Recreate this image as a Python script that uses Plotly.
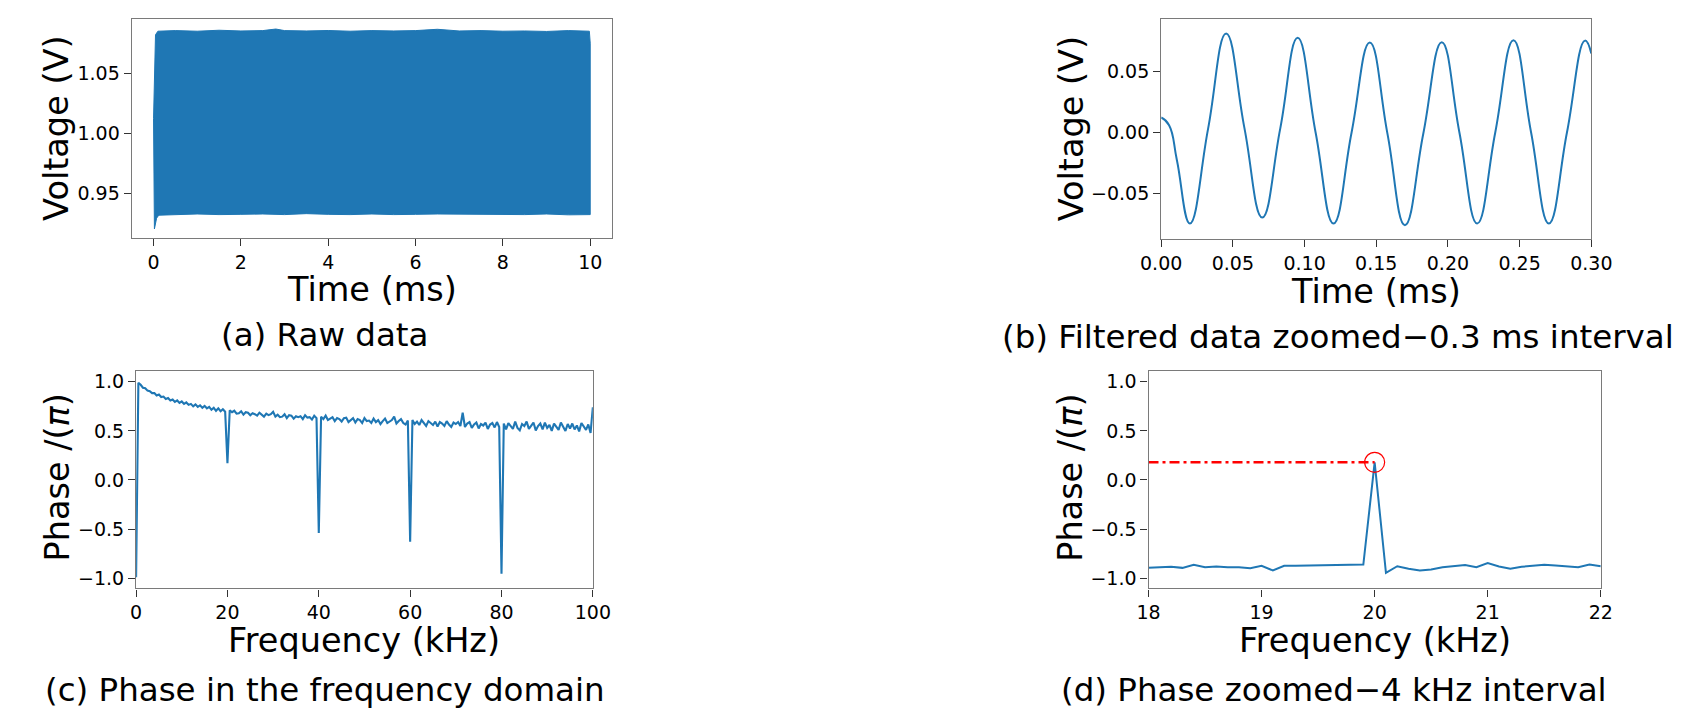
import numpy as np
import plotly.graph_objects as go

W, H = 1704, 724
BLUE = "#1f77b4"

# ---------------- data ----------------
# (a) raw data: envelope of the dense 20 kHz oscillation (time in ms, voltage in V)
raw_upper_t = [0.0, 0.045, 0.1, 0.5, 1.0, 1.5, 2.0, 2.5, 2.8, 3.0, 3.5, 4.0, 4.5, 5.0,
               5.5, 6.0, 6.5, 7.0, 7.5, 8.0, 8.5, 9.0, 9.5, 9.98, 10.0]
raw_upper_v = [1.012, 1.082, 1.085, 1.0855, 1.085, 1.0858, 1.0852, 1.0855, 1.0868, 1.0855,
               1.0852, 1.0856, 1.085, 1.0855, 1.0852, 1.0855, 1.0866, 1.0852, 1.0855, 1.085,
               1.0852, 1.0848, 1.0855, 1.085, 1.075]
raw_lower_t = [0.0, 0.02, 0.07, 0.12, 0.5, 1.0, 1.5, 2.0, 2.5, 3.0, 3.5, 4.0, 4.5, 5.0,
               5.5, 6.0, 6.5, 7.0, 7.5, 8.0, 8.5, 9.0, 9.5, 10.0]
raw_lower_v = [1.012, 0.920, 0.929, 0.9315, 0.932, 0.9325, 0.932, 0.9322, 0.9325, 0.932,
               0.9328, 0.9322, 0.932, 0.9325, 0.932, 0.9322, 0.9325, 0.932, 0.9318, 0.9322,
               0.932, 0.9325, 0.9318, 0.932]

# (b) filtered data, 0.3 ms window (peaks, troughs and crossings)
filt_t = [0.0, 0.0055, 0.011, 0.020, 0.0327, 0.0453, 0.058, 0.0705, 0.083, 0.0952,
          0.1077, 0.1202, 0.1328, 0.1455, 0.1578, 0.170, 0.1828, 0.1957, 0.208, 0.2204,
          0.233, 0.2457, 0.258, 0.2704, 0.283, 0.2956, 0.300]
filt_v = [0.0123, 0.006, -0.023, -0.0748, 0.003, 0.0814, 0.004, -0.0699, 0.003, 0.0778,
          0.0, -0.0748, 0.0, 0.0740, -0.001, -0.0762, -0.001, 0.0742, 0.0, -0.0748,
          0.0, 0.0759, 0.0, -0.0748, 0.0, 0.0755, 0.065]

# (c) phase over 0-100 kHz, sampled every 0.5 kHz (units of pi)
freq_c = [round(0.5 * i, 1) for i in range(201)]
phase_c = [
    -0.99, 0.99,
    0.97, 0.94, 0.935, 0.91, 0.905, 0.885, 0.885, 0.86, 0.87, 0.845,
    0.85, 0.825, 0.835, 0.81, 0.82, 0.795, 0.81, 0.785, 0.80, 0.775,
    0.79, 0.765, 0.775, 0.75, 0.77, 0.745, 0.76, 0.735, 0.755, 0.73,
    0.745, 0.715, 0.735, 0.705, 0.73, 0.70, 0.72, 0.695, 0.17, 0.71,
    0.69, 0.705, 0.675, 0.68, 0.70, 0.665, 0.69, 0.685, 0.66, 0.68,
    0.67, 0.655, 0.685, 0.66, 0.645, 0.675, 0.66, 0.67, 0.695, 0.645,
    0.665, 0.64, 0.645, 0.67, 0.63, 0.66, 0.655, 0.625, 0.65, 0.64,
    0.65, 0.62, 0.66, 0.635, 0.64, 0.615, 0.655, 0.63, -0.54, 0.645,
    0.62, 0.655, 0.61, 0.625, 0.64, 0.60, 0.63, 0.62, 0.595, 0.63,
    0.635, 0.59, 0.61, 0.63, 0.585, 0.62, 0.61, 0.58, 0.63, 0.60,
    0.605, 0.58, 0.625, 0.59, 0.61, 0.57, 0.60, 0.625, 0.58, 0.595,
    0.61, 0.645, 0.575, 0.60, 0.62, 0.58, 0.565, 0.605, -0.63, 0.61,
    0.57, 0.595, 0.56, 0.61, 0.585, 0.55, 0.60, 0.575, 0.56, 0.595,
    0.545, 0.59, 0.575, 0.55, 0.60, 0.565, 0.54, 0.585, 0.57, 0.59,
    0.55, 0.685, 0.54, 0.575, 0.59, 0.53, 0.565, 0.585, 0.525, 0.57,
    0.555, 0.585, 0.52, 0.565, 0.58, 0.535, 0.59, 0.54, -0.955, 0.575,
    0.515, 0.58, 0.55, 0.52, 0.595, 0.53, 0.505, 0.57, 0.55, 0.595,
    0.52, 0.56, 0.585, 0.505, 0.55, 0.575, 0.515, 0.585, 0.53, 0.56,
    0.50, 0.575, 0.54, 0.51, 0.585, 0.545, 0.50, 0.57, 0.525, 0.575,
    0.515, 0.555, 0.495, 0.58, 0.54, 0.51, 0.565, 0.48, 0.74,
]

# (d) phase zoomed 18-22 kHz, 0.1 kHz resolution
freq_d = [round(18.0 + 0.1 * i, 1) for i in range(41)]
phase_d = [-0.895, -0.890, -0.884, -0.895, -0.864, -0.888, -0.881, -0.888, -0.888, -0.898,
           -0.874, -0.921, -0.874, -0.873, -0.871, -0.866, -0.862, -0.862, -0.864, -0.861,
           0.180, -0.945, -0.878, -0.905, -0.921, -0.911, -0.888, -0.874, -0.867, -0.888,
           -0.847, -0.881, -0.905, -0.884, -0.871, -0.864, -0.871, -0.881, -0.888, -0.861,
           -0.878]
peak_freq = 20.0
peak_phase = 0.18

# ---------------- figure ----------------
fig = go.Figure()

# (a)
fig.add_trace(go.Scatter(
    x=raw_upper_t + raw_lower_t[::-1], y=raw_upper_v + raw_lower_v[::-1],
    mode="lines", fill="toself", fillcolor=BLUE, line=dict(color=BLUE, width=1),
    xaxis="x", yaxis="y", showlegend=False, hoverinfo="skip"))

# (b)
fig.add_trace(go.Scatter(
    x=filt_t, y=filt_v, mode="lines",
    line=dict(color=BLUE, width=2, shape="spline", smoothing=1.3),
    xaxis="x2", yaxis="y2", showlegend=False))

# (c)
fig.add_trace(go.Scatter(
    x=freq_c, y=phase_c, mode="lines", line=dict(color=BLUE, width=2.1),
    xaxis="x3", yaxis="y3", showlegend=False))

# (d)
fig.add_trace(go.Scatter(
    x=freq_d, y=phase_d, mode="lines", line=dict(color=BLUE, width=2),
    xaxis="x4", yaxis="y4", showlegend=False))
fig.add_trace(go.Scatter(
    x=[freq_d[0], peak_freq], y=[peak_phase, peak_phase], mode="lines",
    line=dict(color="#ff0000", width=2.6, dash="10px,4px,3px,4px"),
    xaxis="x4", yaxis="y4", showlegend=False))
fig.add_trace(go.Scatter(
    x=[peak_freq], y=[peak_phase], mode="markers",
    marker=dict(symbol="circle-open", size=20, color="#ff0000", line=dict(width=1.2, color="#ff0000")),
    xaxis="x4", yaxis="y4", showlegend=False))


def dom_x(a, b):
    return [a / W, b / W]


def dom_y(top, bottom):
    return [1 - bottom / H, 1 - top / H]


TICKFONT = dict(family="DejaVu Sans", size=19, color="#000000")


def axis(domain, rng, tickvals, fmt, anchor):
    return dict(domain=domain, range=rng, tickvals=tickvals, tickformat=fmt, anchor=anchor,
                showline=True, mirror=True, linecolor="#7a7a7a", linewidth=1.3,
                ticks="outside", ticklen=7, tickwidth=1.3, tickcolor="#333333",
                showgrid=False, zeroline=False, tickfont=TICKFONT)


fig.update_layout(
    width=W, height=H, margin=dict(l=0, r=0, t=0, b=0),
    paper_bgcolor="white", plot_bgcolor="white",
    xaxis=axis(dom_x(113.5, 606), [-0.5, 10.5], [0, 2, 4, 6, 8, 10], "d", "y"),
    yaxis=axis(dom_y(18, 237.3), [0.9125, 1.0952], [0.95, 1.00, 1.05], ".2f", "x"),
    xaxis2=axis(dom_x(1169, 1610), [0, 0.3], [0, 0.05, 0.10, 0.15, 0.20, 0.25, 0.30], ".2f", "y2"),
    yaxis2=axis(dom_y(18, 238), [-0.0873, 0.0933], [-0.05, 0.0, 0.05], ".2f", "x2"),
    xaxis3=axis(dom_x(118, 586.3), [0, 100], [0, 20, 40, 60, 80, 100], "d", "y3"),
    yaxis3=axis(dom_y(371, 588.3), [-1.105, 1.105], [-1.0, -0.5, 0.0, 0.5, 1.0], ".1f", "x3"),
    xaxis4=axis(dom_x(1156, 1619.7), [18, 22], [18, 19, 20, 21, 22], "d", "y4"),
    yaxis4=axis(dom_y(371, 588.3), [-1.105, 1.105], [-1.0, -0.5, 0.0, 0.5, 1.0], ".1f", "x4"),
)

LABELFONT = dict(family="DejaVu Sans", size=33.5, color="#000000")
CAPFONT = dict(family="DejaVu Sans", size=32.5, color="#000000")

labels = [
    ("Time (ms)", 360, 289, 0, LABELFONT),
    ("Time (ms)", 1389, 291, 0, LABELFONT),
    ("Frequency (kHz)", 352, 640, 0, LABELFONT),
    ("Frequency (kHz)", 1388, 640, 0, LABELFONT),
    ("Voltage (V)", 37, 128, -90, LABELFONT),
    ("Voltage (V)", 1077, 128, -90, LABELFONT),
    ("Phase /(<i>π</i>)", 37, 477, -90, LABELFONT),
    ("Phase /(<i>π</i>)", 1076, 477, -90, LABELFONT),
    ("(a) Raw data", 312, 334, 0, CAPFONT),
    ("(b) Filtered data zoomed−0.3 ms interval", 1350, 336, 0, CAPFONT),
    ("(c) Phase in the frequency domain", 312, 690, 0, CAPFONT),
    ("(d) Phase zoomed−4 kHz interval", 1346, 690, 0, CAPFONT),
]
for text, px, py, ang, font in labels:
    fig.add_annotation(text=text, x=px / W, y=1 - py / H, xref="paper", yref="paper",
                       xanchor="center", yanchor="middle", showarrow=False,
                       textangle=ang, font=font)

fig.write_html("out.html")
